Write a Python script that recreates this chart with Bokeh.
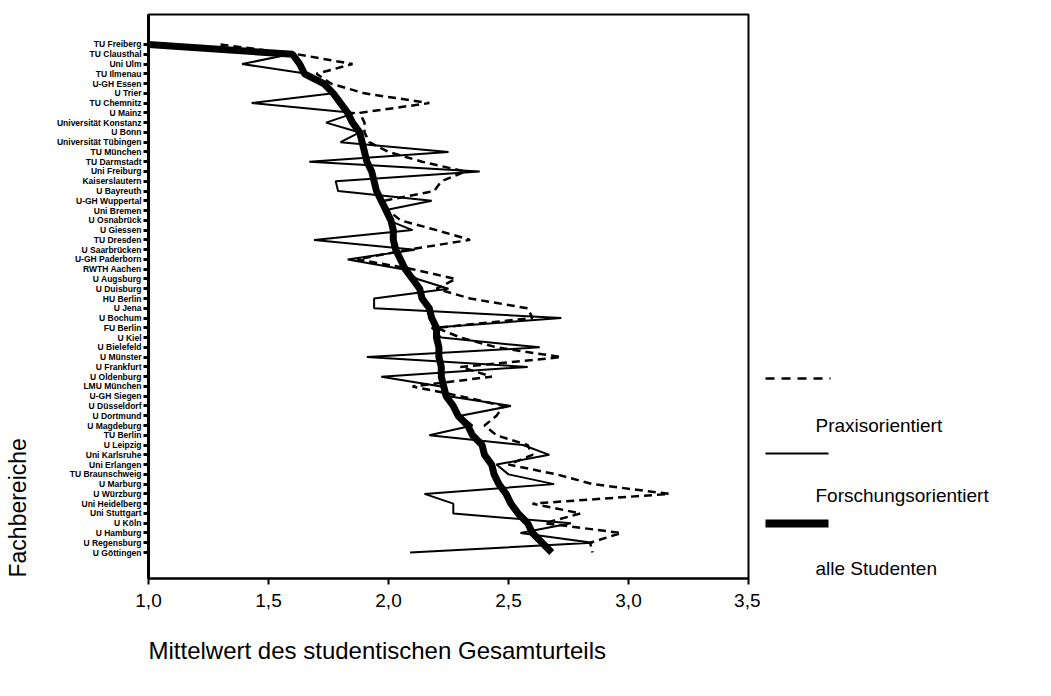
import math
from bokeh.plotting import figure
from bokeh.models import Range1d, FixedTicker, Title
from bokeh.layouts import row
from bokeh.embed import file_html
from bokeh.resources import INLINE
from bokeh.core.properties import value

categories = [
    "TU Freiberg", "TU Clausthal", "Uni Ulm", "TU Ilmenau", "U-GH Essen",
    "U Trier", "TU Chemnitz", "U Mainz", "Universität Konstanz", "U Bonn",
    "Universität Tübingen", "TU München", "TU Darmstadt", "Uni Freiburg", "Kaiserslautern",
    "U Bayreuth", "U-GH Wuppertal", "Uni Bremen", "U Osnabrück", "U Giessen",
    "TU Dresden", "U Saarbrücken", "U-GH Paderborn", "RWTH Aachen", "U Augsburg",
    "U Duisburg", "HU Berlin", "U Jena", "U Bochum", "FU Berlin",
    "U Kiel", "U Bielefeld", "U Münster", "U Frankfurt", "U Oldenburg",
    "LMU München", "U-GH Siegen", "U Düsseldorf", "U Dortmund", "U Magdeburg",
    "TU Berlin", "U Leipzig", "Uni Karlsruhe", "Uni Erlangen", "TU Braunschweig",
    "U Marburg", "U Würzburg", "Uni Heidelberg", "Uni Stuttgart", "U Köln",
    "U Hamburg", "U Regensburg", "U Göttingen",
]

praxis = [
    1.30, 1.62, 1.85, 1.70, 1.76, 1.90, 2.17, 1.88, 1.90, 1.90,
    1.92, 2.00, 2.14, 2.32, 2.22, 2.19, 1.98, 2.00, 2.05, 2.20,
    2.34, 2.08, 1.87, 2.10, 2.28, 2.20, 2.34, 2.58, 2.60, 2.20,
    2.30, 2.45, 2.72, 2.30, 2.43, 2.10, 2.30, 2.48, 2.45, 2.40,
    2.45, 2.58, 2.60, 2.50, 2.70, 2.85, 3.17, 2.60, 2.80, 2.65,
    2.97, 2.84, 2.85,
]

forschung = [
    1.00, 1.59, 1.39, 1.66, 1.74, 1.77, 1.43, 1.86, 1.74, 1.88,
    1.80, 2.25, 1.67, 2.38, 1.78, 1.79, 2.18, 1.98, 2.00, 2.10,
    1.69, 2.11, 1.83, 2.06, 2.12, 2.25, 1.94, 1.94, 2.72, 2.18,
    2.22, 2.63, 1.91, 2.58, 1.97, 2.22, 2.25, 2.51, 2.30, 2.35,
    2.17, 2.56, 2.67, 2.45, 2.50, 2.69, 2.15, 2.27, 2.27, 2.76,
    2.55, 2.85, 2.09,
]

alle = [
    1.00, 1.60, 1.63, 1.65, 1.73, 1.77, 1.80, 1.83, 1.85, 1.88,
    1.89, 1.90, 1.91, 1.93, 1.94, 1.95, 1.97, 1.99, 2.01, 2.02,
    2.02, 2.03, 2.05, 2.07, 2.10, 2.13, 2.14, 2.17, 2.18, 2.20,
    2.20, 2.21, 2.21, 2.22, 2.22, 2.23, 2.24, 2.27, 2.29, 2.33,
    2.35, 2.39, 2.40, 2.43, 2.44, 2.46, 2.49, 2.51, 2.54, 2.58,
    2.60, 2.64, 2.68,
]

x_ticks = [1.0, 1.5, 2.0, 2.5, 3.0, 3.5]
x_tick_labels = ["1,0", "1,5", "2,0", "2,5", "3,0", "3,5"]

legend_labels = ["Praxisorientiert", "Forschungsorientiert", "alle Studenten"]
y_title = "Fachbereiche"
x_title = "Mittelwert des studentischen Gesamturteils"

FONT = "Liberation Sans"
idx = list(range(len(categories)))

# left strip holding the vertical axis title (frame aligned to main frame: canvas y 14..578)
lf = figure(width=30, height=696, output_backend="svg", toolbar_location=None,
            x_range=Range1d(0, 30), y_range=Range1d(578, 14),
            x_axis_location=None, y_axis_location=None, min_border=0)
lf.grid.visible = False
lf.outline_line_color = None
lf.text(x=[17], y=[577], text=[y_title], angle=math.pi / 2,
        text_align="left", text_baseline="middle", text_color="black",
        text_font=value(FONT), text_font_size="23px")

p = figure(width=730, height=696, output_backend="svg", toolbar_location=None,
           x_range=Range1d(1.0, 3.5), y_range=Range1d(54.66, -3.07),
           min_border_left=118, min_border_right=12, min_border_top=14,
           min_border_bottom=118)
p.grid.visible = False
p.outline_line_color = "black"
p.outline_line_width = 2
p.background_fill_color = "white"
p.border_fill_color = "white"

p.line(praxis, idx, line_color="black", line_width=2.5, line_dash="8 5")
p.line(forschung, idx, line_color="black", line_width=2)
p.line(alle, idx, line_color="black", line_width=7)

xa = p.xaxis[0]
xa.ticker = FixedTicker(ticks=x_ticks)
xa.major_label_overrides = {t: l for t, l in zip(x_ticks, x_tick_labels)}
xa.major_label_text_font = FONT
xa.major_label_text_font_size = "19px"
xa.major_label_text_color = "black"
xa.major_tick_out = 6
xa.major_tick_in = 0
xa.major_tick_line_width = 2
xa.minor_tick_line_color = None
xa.axis_line_width = 2
xa.major_label_standoff = 9

ya = p.yaxis[0]
ya.ticker = FixedTicker(ticks=idx)
ya.major_label_overrides = {i: c for i, c in zip(idx, categories)}
ya.major_label_text_font = FONT
ya.major_label_text_font_size = "8.5px"
ya.major_label_text_font_style = "bold"
ya.major_label_text_color = "black"
ya.major_tick_out = 5
ya.major_tick_in = 0
ya.major_tick_line_width = 3
ya.minor_tick_line_color = None
ya.axis_line_width = 3
ya.major_label_standoff = 2

tx = Title(text=x_title, align="left", text_font=FONT, text_color="black",
           text_font_size="24px", text_font_style="normal", standoff=51)
p.add_layout(tx, "below")

# legend panel
q = figure(width=291, height=696, output_backend="svg", toolbar_location=None,
           x_range=Range1d(0, 291), y_range=Range1d(578, 14),
           x_axis_location=None, y_axis_location=None, min_border=0)
q.grid.visible = False
q.outline_line_color = None
q.background_fill_color = "white"
q.border_fill_color = "white"

q.line([5, 70], [378, 378], line_color="black", line_width=2.5, line_dash="9 7")
q.line([5, 68], [453, 453], line_color="black", line_width=2)
q.line([5, 68], [523, 523], line_color="black", line_width=8)
q.text(x=[55, 55, 55], y=[425, 495, 568], text=legend_labels,
       text_baseline="middle", text_align="left", text_color="black",
       text_font=value(FONT), text_font_size="19px")

layout = row(lf, p, q)
open("out.html", "w").write(file_html(layout, INLINE))
